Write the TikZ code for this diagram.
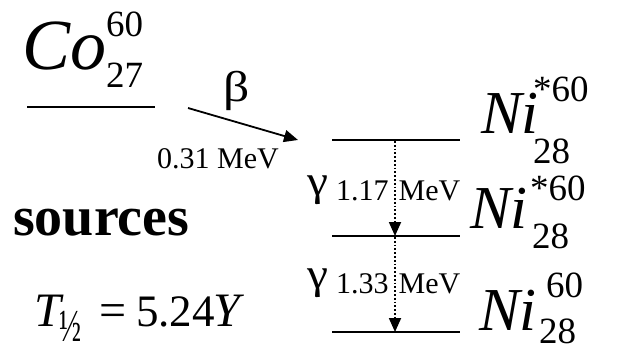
\documentclass[tikz,border=0pt]{standalone}
\usepackage{fontspec}
\setmainfont{Liberation Serif}
\usetikzlibrary{arrows.meta}
\tikzset{
  lvl/.style={line width=1.8pt},
  tx/.style={inner sep=0pt, anchor=base west},
  big/.style={tx, font=\fontsize{72}{72}\selectfont\itshape},
  nib/.style={tx, font=\fontsize{61}{61}\selectfont\itshape},
  scr/.style={tx, text depth=0pt, font=\fontsize{37}{37}\selectfont},
  lab/.style={tx, font=\fontsize{30}{30}\selectfont},
  greek/.style={tx, font=\fontsize{43}{43}\selectfont},
  tr/.style={line width=1.8pt, dotted, -{Triangle[length=14pt,width=12pt]}},
  ba/.style={line width=1.8pt, -{Triangle[length=14pt,width=12pt]}}
}
\begin{document}
\begin{tikzpicture}[x=1pt,y=-1pt]
\useasboundingbox (0,0) rectangle (617,350);
% Co
\node[big] (co) at (22,70) {Co};
\node[scr] (cosup) at (106,37) {60};
\node[scr] (cosub) at (106,88) {27};
\coordinate (c1) at (27,107);
\coordinate (c2) at (155,107);
\draw[lvl] (c1) -- (c2);
% beta
\coordinate (b1) at (188,108);
\coordinate (b2) at (298,140);
\draw[ba] (b1) -- (b2);
\node[greek] (beta) at (223,102) {\scalebox{1.2}[1]{β}};
\node[lab] (bmev) at (157,168) {0.31 MeV};
% Ni levels
\coordinate (l1a) at (332,140); \coordinate (l1b) at (460,140);
\coordinate (l2a) at (332,236); \coordinate (l2b) at (460,236);
\coordinate (l3a) at (332,332); \coordinate (l3b) at (460,332);
\draw[lvl] (l1a) -- (l1b);
\draw[lvl] (l2a) -- (l2b);
\draw[lvl] (l3a) -- (l3b);
\coordinate (g1a) at (395,141); \coordinate (g1b) at (395,236);
\coordinate (g2a) at (395,237); \coordinate (g2b) at (395,332);
\draw[tr] (g1a) -- (g1b);
\draw[tr] (g2a) -- (g2b);
\node[greek] (gam1) at (307,195) {\scalebox{1.1}[1]{γ}};
\node[lab] (mev1) at (336,200) {1.17\hspace{10pt}MeV};
\node[greek] (gam2) at (307,288) {\scalebox{1.1}[1]{γ}};
\node[lab] (mev2) at (336,293) {1.33\hspace{10pt}MeV};
% Ni labels
\node[nib] (ni1) at (481,133) {Ni};
\node[scr] (ni1sup) at (533,102) {*60};
\node[scr] (ni1sub) at (533,163) {28};
\node[nib] (ni2) at (470,228) {Ni};
\node[scr] (ni2sup) at (530,200) {*60};
\node[scr] (ni2sub) at (532,248) {28};
\node[nib] (ni3) at (479,330) {Ni};
\node[scr] (ni3sup) at (546,297) {60};
\node[scr] (ni3sub) at (539,343) {28};
% sources
\node[tx, font=\fontsize{56}{56}\selectfont\bfseries] (src) at (13,235) {sources};
% half life
\node[tx, font=\fontsize{48}{48}\selectfont\itshape] (T) at (34,326) {T};
\node[tx, text depth=0pt, font=\fontsize{46}{46}\selectfont] (half) at (59,341) {\scalebox{0.64}[1]{½}};
\node[tx, font=\fontsize{48}{48}\selectfont] (eq) at (99,326) {=};
\node[tx, font=\fontsize{45}{45}\selectfont] (num) at (136,326) {5.24};
\node[tx, font=\fontsize{48}{48}\selectfont\itshape] (Y) at (213,326) {Y};
\end{tikzpicture}
\end{document}
